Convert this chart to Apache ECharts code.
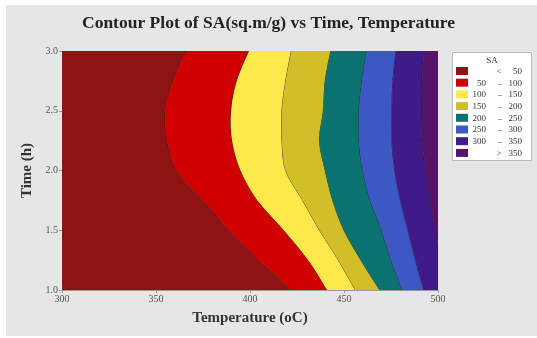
<!DOCTYPE html>
<html>
<head>
<meta charset="utf-8">
<script src="https://cdn.jsdelivr.net/npm/echarts@6/dist/echarts.min.js"></script>
<style>
  html, body { margin: 0; padding: 0; background: #fff; }
  #chart { width: 537px; height: 338px; }
</style>
</head>
<body>
<div id="chart"></div>
<script>
// time samples (h) at which the contour boundaries were read
const times = [1.0, 1.25, 1.5, 1.75, 2.0, 2.25, 2.5, 2.75, 3.0]
// boundary temperature (oC) for each SA level, one value per time sample
const b50  = [422, 405, 389, 375, 361, 356, 355, 359, 366]
const b100 = [441, 431, 418, 404, 395, 390.5, 390, 393, 399.5]
const b150 = [456, 447, 437, 428, 419, 417, 417, 419, 422]
const b200 = [469, 459, 450, 444, 440, 437, 439, 440, 443]
const b250 = [481, 475, 470, 464, 460, 458, 458, 459.6, 462]
const b300 = [492.5, 488, 484, 480, 477, 475.5, 475.5, 476, 477.6]
const b350 = [506, 502, 498.5, 496, 493.6, 491.5, 491.5, 491.5, 492.5]

const levels = ['<  50', '50  –  100', '100  –  150', '150  –  200', '200  –  250', '250  –  300', '300  –  350', '>  350']
const colors = ['#8E1414', '#D10000', '#FFE94A', '#D2BF27', '#0A7370', '#3D57C4', '#3F1B8A', '#561468']

const xMin = 300, xMax = 500
const boundaries = [b50, b100, b150, b200, b250, b300, b350]

// catmull-rom densify for a smooth drawn curve
function smoothPts(pts) {
  const out = []
  for (let i = 0; i < pts.length - 1; i++) {
    const p0 = pts[Math.max(i - 1, 0)], p1 = pts[i], p2 = pts[i + 1], p3 = pts[Math.min(i + 2, pts.length - 1)]
    for (let s = 0; s < 10; s++) {
      const t = s / 10, t2 = t * t, t3 = t2 * t
      out.push([0, 1].map(k => 0.5 * ((2 * p1[k]) + (-p0[k] + p2[k]) * t +
        (2 * p0[k] - 5 * p1[k] + 4 * p2[k] - p3[k]) * t2 + (-p0[k] + 3 * p1[k] - 3 * p2[k] + p3[k]) * t3)))
    }
  }
  out.push(pts[pts.length - 1])
  return out
}

// band i goes from left edge (boundary i-1 or xMin) to right edge (boundary i or xMax)
const bandData = colors.map((c, i) => [i])

const chart = echarts.init(document.getElementById('chart'))

function edgePts(api, arr, fixed) {
  return times.map((t, j) => api.coord([fixed != null ? fixed : arr[j], t]))
}

chart.setOption({
  backgroundColor: '#E6E6E6',
  title: {
    text: 'Contour Plot of SA(sq.m/g) vs Time, Temperature',
    left: 'center', top: 9,
    textStyle: { fontFamily: 'Liberation Serif', fontWeight: 'bold', fontSize: 17.5, color: '#222' }
  },
  grid: { left: 62, top: 51, width: 376, height: 239 },
  xAxis: {
    type: 'value', min: xMin, max: xMax, interval: 50,
    name: 'Temperature (oC)', nameLocation: 'middle', nameGap: 21,
    nameTextStyle: { fontFamily: 'Liberation Serif', fontWeight: 'bold', fontSize: 15, color: '#333' },
    axisLine: { show: true, lineStyle: { color: '#999' } },
    axisTick: { show: true, length: 3, lineStyle: { color: '#999' } },
    axisLabel: { fontFamily: 'Liberation Serif', fontSize: 10, color: '#555', margin: 4 },
    splitLine: { show: false }
  },
  yAxis: {
    type: 'value', min: 1.0, max: 3.0, interval: 0.5,
    name: 'Time (h)', nameLocation: 'middle', nameGap: 25, nameRotate: 90,
    nameTextStyle: { fontFamily: 'Liberation Serif', fontWeight: 'bold', fontSize: 15, color: '#333' },
    axisLine: { show: true, lineStyle: { color: '#999' } },
    axisTick: { show: true, length: 3, lineStyle: { color: '#999' } },
    axisLabel: { fontFamily: 'Liberation Serif', fontSize: 10, color: '#555', margin: 4,
      formatter: v => v.toFixed(1) },
    splitLine: { show: false }
  },
  series: [{
    type: 'custom',
    clip: true,
    data: bandData,
    renderItem: (params, api) => {
      const i = api.value(0)
      const cs = params.coordSys
      const rect = { x: cs.x, y: cs.y, width: cs.width, height: cs.height }
      const left = i === 0 ? edgePts(api, null, xMin) : smoothPts(edgePts(api, boundaries[i - 1]))
      const right = i === boundaries.length ? edgePts(api, null, xMax) : smoothPts(edgePts(api, boundaries[i]))
      let poly = left.concat(right.slice().reverse())
      poly = echarts.graphic.clipPointsByRect(poly, rect)
      const children = [{
        type: 'polygon', shape: { points: poly },
        style: { fill: colors[i], stroke: null }
      }]
      if (i < boundaries.length) {
        // boundary line on the right edge of this band
        children.push({
          type: 'polyline', shape: { points: echarts.graphic.clipPointsByRect(right, rect) },
          style: { stroke: '#1a1a1a', lineWidth: 0.8, fill: null }
        })
      }
      return { type: 'group', children }
    }
  }],
  graphic: [
    { type: 'rect', shape: { x: 0, y: 0, width: 537, height: 5 }, style: { fill: '#fff' } },
    { type: 'rect', shape: { x: 0, y: 0, width: 6, height: 338 }, style: { fill: '#fff' } },
    { type: 'rect', shape: { x: 0, y: 336, width: 537, height: 2 }, style: { fill: '#fff' } },
    { type: 'rect', shape: { x: 452.5, y: 52.5, width: 79, height: 108 },
      style: { fill: '#fff', stroke: '#bbb', lineWidth: 1 } },
    { type: 'text', x: 492, y: 56, style: { text: 'SA', font: '9px "Liberation Serif"', fill: '#333', textAlign: 'center' } }
  ].concat(levels.flatMap((lab, k) => {
    const y = 67 + k * 11.7
    const parts = lab.split(/\s+/)
    const items = [{ type: 'rect', shape: { x: 456, y: y, width: 12, height: 8 }, style: { fill: colors[k] } }]
    const font = '9px "Liberation Serif"'
    if (parts.length === 2) {
      items.push({ type: 'text', x: 499, y: y, style: { text: parts[0], font, fill: '#333', textAlign: 'center' } })
      items.push({ type: 'text', x: 522, y: y, style: { text: parts[1], font, fill: '#333', textAlign: 'right' } })
    } else {
      items.push({ type: 'text', x: 486, y: y, style: { text: parts[0], font, fill: '#333', textAlign: 'right' } })
      items.push({ type: 'text', x: 500, y: y, style: { text: parts[1], font, fill: '#333', textAlign: 'center' } })
      items.push({ type: 'text', x: 522, y: y, style: { text: parts[2], font, fill: '#333', textAlign: 'right' } })
    }
    return items
  }))
})
</script>
</body>
</html>
